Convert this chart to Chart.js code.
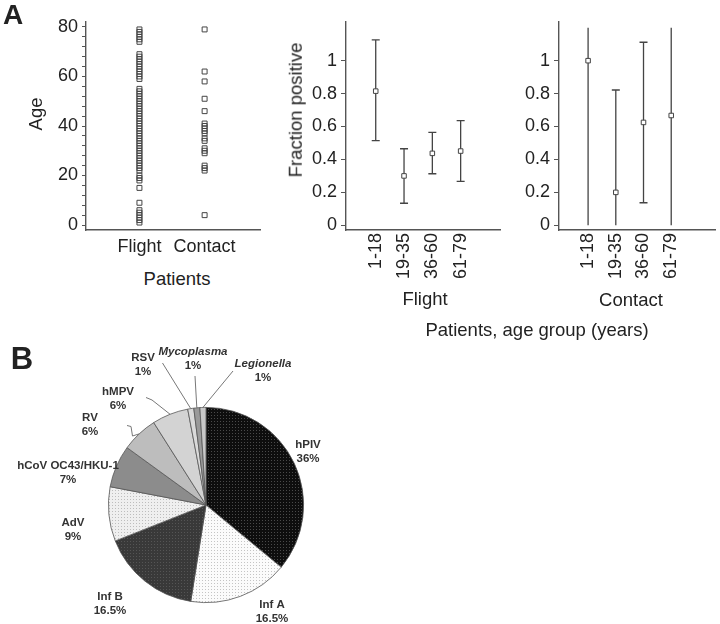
<!DOCTYPE html>
<html>
<head>
<meta charset="utf-8">
<script src="https://cdn.jsdelivr.net/npm/chart.js@4/dist/chart.umd.min.js"></script>
<style>
  body { margin: 0; background: #fff; width: 720px; height: 624px; position: relative; overflow: hidden;
         font-family: 'Liberation Sans', Arial, sans-serif; color: #222; }
  canvas { position: absolute; }
  .t { position: absolute; white-space: nowrap; font-size: 18.5px; line-height: 1; transform: translate(-50%, -50%); }
  .rot { transform: translate(-50%, -50%) rotate(-90deg); }
</style>
</head>
<body>
<canvas id="ageChart" style="left:0;top:0" width="265" height="260"></canvas>
<canvas id="flightChart" style="left:260px;top:0" width="245" height="290"></canvas>
<canvas id="contactChart" style="left:473px;top:0" width="247" height="290"></canvas>
<canvas id="pieChart" style="left:0;top:336px" width="360" height="288"></canvas>

<div class="t" style="left:13px;top:15px;font-size:28px;font-weight:bold">A</div>
<div class="t" style="left:22px;top:358px;font-size:31px;font-weight:bold">B</div>
<div class="t rot" style="left:36px;top:114px">Age</div>
<div class="t" style="left:177px;top:279px">Patients</div>
<div class="t rot" style="left:296px;top:110px">Fraction positive</div>
<div class="t" style="left:425px;top:299px">Flight</div>
<div class="t" style="left:631px;top:300px">Contact</div>
<div class="t" style="left:537px;top:330px">Patients, age group (years)</div>

<script>
// Panel A, left: individual patient ages
const groupLabels = ['Flight', 'Contact'];
const flightAges = [1, 2, 3, 4, 5, 6, 9, 15, 18, 19, 20, 22, 23, 24, 25, 26, 27, 28, 29, 30, 31, 32, 33,
  34, 35, 36, 37, 38, 39, 40, 41, 42, 43, 44, 45, 46, 47, 48, 49, 50, 51, 52, 53, 54, 55,
  59, 60, 61, 62, 63, 64, 65, 66, 67, 68, 69, 74, 75, 76, 77, 78, 79];
const contactAges = [4, 22, 23, 24, 29, 30, 31, 34, 35, 37, 38, 39, 40, 41, 46, 51, 58, 62, 79];
const ageTicks = [0, 20, 40, 60, 80];

// Panel A, right: fraction positive per age group, with confidence intervals
const ageGroups = ['1-18', '19-35', '36-60', '61-79'];
const flightFraction = [0.815, 0.30, 0.437, 0.451];
const flightLower = [0.514, 0.134, 0.313, 0.267];
const flightUpper = [1.126, 0.465, 0.565, 0.636];
const contactFraction = [1.0, 0.2, 0.625, 0.667];
const contactLower = [0, 0, 0.137, 0];
const contactUpper = [1.2, 0.822, 1.112, 1.2];
const fractionTicks = [0, 0.2, 0.4, 0.6, 0.8, 1];

// Panel B: pathogens found
const pathogens = ['hPIV', 'Inf A', 'Inf B', 'AdV', 'hCoV OC43/HKU-1', 'RV', 'hMPV', 'RSV', 'Mycoplasma', 'Legionella'];
const shares = [36, 16.5, 16.5, 9, 7, 6, 6, 1, 1, 1];

const FONT = "'Liberation Sans', Arial, sans-serif";
Chart.defaults.font.family = FONT;
Chart.defaults.font.size = 18;
Chart.defaults.color = '#222';

const axisBorder = { color: '#555', width: 1.4 };
const marker = { pointStyle: 'rect', pointBorderColor: '#444', pointBorderWidth: 1,
                 borderColor: '#444', backgroundColor: 'rgba(0,0,0,0)' };

// Age scatter
new Chart(document.getElementById('ageChart'), {
  type: 'scatter',
  data: {
    datasets: [
      { data: flightAges.map(a => ({ x: 1, y: a })), ...marker, pointRadius: 3.5, pointBackgroundColor: 'rgba(0,0,0,0)' },
      { data: contactAges.map(a => ({ x: 2, y: a })), ...marker, pointRadius: 3.5, pointBackgroundColor: 'rgba(0,0,0,0)' }
    ]
  },
  options: {
    responsive: false,
    animation: false,
    layout: { padding: { top: 22, right: 3, left: 0, bottom: 0 } },
    plugins: { legend: { display: false }, tooltip: { enabled: false } },
    scales: {
      x: {
        type: 'linear', min: 0.18, max: 2.85,
        afterFit: s => { s.height = 30; },
        afterBuildTicks: s => { s.ticks = groupLabels.map((_, i) => ({ value: i + 1 })); },
        ticks: { callback: v => groupLabels[v - 1], padding: 6, autoSkip: false, maxRotation: 0 },
        grid: { drawOnChartArea: false, drawTicks: false },
        border: axisBorder
      },
      y: {
        min: -2, max: 82,
        afterFit: s => { s.width = 86; },
        afterBuildTicks: s => {
          // minor ticks every 4 years, labels only on the major ones
          s.ticks = [];
          for (let v = 0; v <= 80; v += 4) s.ticks.push({ value: v });
        },
        ticks: { callback: v => ageTicks.includes(v) ? String(v) : '', padding: 4, autoSkip: false },
        grid: { drawOnChartArea: false, tickLength: 4, color: '#555' },
        border: axisBorder
      }
    }
  }
});

// whiskers drawn under the markers; no cap where the interval runs off the axis
function errorBarPlugin(lower, upper, top) {
  return {
    id: 'errorBars',
    beforeDatasetsDraw(chart) {
      const { ctx, scales: { x, y } } = chart;
      ctx.save();
      ctx.strokeStyle = '#444';
      ctx.lineWidth = 1.3;
      lower.forEach((lo, i) => {
        const hi = upper[i];
        const px = x.getPixelForValue(i + 1);
        const y0 = y.getPixelForValue(lo);
        const y1 = y.getPixelForValue(hi);
        ctx.beginPath();
        ctx.moveTo(px, y0);
        ctx.lineTo(px, y1);
        if (lo > 0) { ctx.moveTo(px - 4, y0); ctx.lineTo(px + 4, y0); }
        if (hi < top) { ctx.moveTo(px - 4, y1); ctx.lineTo(px + 4, y1); }
        ctx.stroke();
      });
      ctx.restore();
    }
  };
}

function fractionChart(id, values, lower, upper, xMax, rightPad) {
  return new Chart(document.getElementById(id), {
    type: 'scatter',
    data: {
      datasets: [{ data: values.map((v, i) => ({ x: i + 1, y: v })), ...marker,
                   pointRadius: 3.2, pointBackgroundColor: '#fff' }]
    },
    options: {
      responsive: false,
      animation: false,
      layout: { padding: { top: 22, right: rightPad, left: 0, bottom: 0 } },
      plugins: { legend: { display: false }, tooltip: { enabled: false } },
      scales: {
        x: {
          type: 'linear', min: -0.05, max: xMax,
          afterFit: s => { s.height = 60; },
          afterBuildTicks: s => { s.ticks = ageGroups.map((_, i) => ({ value: i + 1 })); },
          ticks: { callback: v => ageGroups[v - 1], padding: 3, minRotation: 90, maxRotation: 90, autoSkip: false },
          grid: { drawOnChartArea: false, drawTicks: false },
          border: axisBorder
        },
        y: {
          min: -0.0286, max: 1.235,
          afterFit: s => { s.width = 86; },
          afterBuildTicks: s => { s.ticks = fractionTicks.map(v => ({ value: v })); },
          ticks: { callback: v => String(v), padding: 4, autoSkip: false },
          grid: { drawOnChartArea: false, tickLength: 5, color: '#555' },
          border: axisBorder
        }
      }
    },
    plugins: [errorBarPlugin(lower, upper, 1.2)]
  });
}

fractionChart('flightChart', flightFraction, flightLower, flightUpper, 5.39, 5);
fractionChart('contactChart', contactFraction, contactLower, contactUpper, 5.58, 2);

// dotted fills like the printed figure
function dots(bg, fg) {
  const c = document.createElement('canvas');
  c.width = c.height = 3;
  const g = c.getContext('2d');
  g.fillStyle = bg;
  g.fillRect(0, 0, 3, 3);
  g.fillStyle = fg;
  g.fillRect(1, 1, 1, 1);
  return g.createPattern(c, 'repeat');
}

const sliceFills = [
  dots('#0e0e0e', '#4a4a4a'), dots('#fbfbfb', '#c4c4c4'), dots('#393939', '#555'),
  dots('#efefef', '#bdbdbd'), '#8c8c8c', '#bdbdbd', '#d3d3d3', '#dadada', '#9a9a9a', '#c8c8c8'
];

// label centres (page px) and leader line bends, per pathogen
const PIE_TOP = 336;
const labelPos = {
  'hPIV': [308, 445], 'Inf A': [272, 605], 'Inf B': [110, 597], 'AdV': [73, 523],
  'hCoV OC43/HKU-1': [68, 466], 'RV': [90, 418], 'hMPV': [118, 392], 'RSV': [143, 358],
  'Mycoplasma': [193, 352], 'Legionella': [263, 364]
};
const leaders = {
  'RV': [[127, 425.5], [131, 426.5], [132.5, 436]],
  'hMPV': [[146, 397.5], [152, 400]],
  'RSV': [[162.5, 363]],
  'Mycoplasma': [[195, 376]],
  'Legionella': [[233, 371]]
};
const italicNames = ['Mycoplasma', 'Legionella'];

const pieLabels = {
  id: 'pieLabels',
  afterDraw(chart) {
    const ctx = chart.ctx;
    const arcs = chart.getDatasetMeta(0).data;
    ctx.save();
    arcs.forEach((arc, i) => {
      const name = pathogens[i];
      const p = arc.getProps(['x', 'y', 'startAngle', 'endAngle', 'outerRadius'], true);
      const mid = (p.startAngle + p.endAngle) / 2;
      const ex = p.x + Math.cos(mid) * p.outerRadius;
      const ey = p.y + Math.sin(mid) * p.outerRadius;
      if (leaders[name]) {
        ctx.strokeStyle = '#777';
        ctx.lineWidth = 1;
        ctx.beginPath();
        leaders[name].forEach(([lx, ly], k) => {
          if (k === 0) ctx.moveTo(lx, ly - PIE_TOP); else ctx.lineTo(lx, ly - PIE_TOP);
        });
        ctx.lineTo(ex, ey);
        ctx.stroke();
      }
      const [tx, ty] = labelPos[name];
      ctx.fillStyle = '#333';
      ctx.textAlign = 'center';
      ctx.textBaseline = 'middle';
      ctx.font = (italicNames.includes(name) ? 'italic ' : '') + 'bold 11.5px ' + FONT;
      ctx.fillText(name, tx, ty - PIE_TOP);
      ctx.font = 'bold 11.5px ' + FONT;
      ctx.fillText(shares[i] + '%', tx, ty - PIE_TOP + 13.5);
    });
    ctx.restore();
  }
};

new Chart(document.getElementById('pieChart'), {
  type: 'pie',
  data: {
    labels: pathogens,
    datasets: [{ data: shares, backgroundColor: sliceFills, borderColor: '#555', borderWidth: 0.8 }]
  },
  options: {
    responsive: false,
    animation: false,
    layout: { padding: { left: 108, top: 71, right: 56, bottom: 21 } },
    plugins: { legend: { display: false }, tooltip: { enabled: false } }
  },
  plugins: [pieLabels]
});
</script>
</body>
</html>
